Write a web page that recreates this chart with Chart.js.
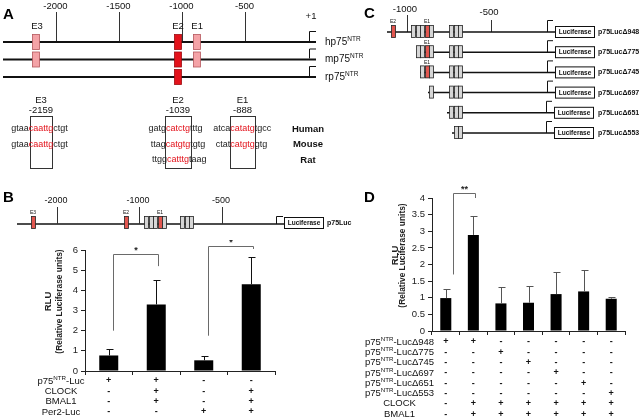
<!DOCTYPE html>
<html>
<head>
<meta charset="utf-8">
<script src="https://cdn.jsdelivr.net/npm/chart.js@4.4.0/dist/chart.umd.min.js"></script>
<style>
  html, body { margin: 0; padding: 0; background: #fff; }
  #page { position: relative; width: 640px; height: 419px; overflow: hidden; }
  canvas { position: absolute; }
  #diagrams { left: 0; top: 0; }
  #chartB { left: 0; top: 240px; }
  #chartD { left: 330px; top: 160px; }
</style>
</head>
<body>
<div id="page">
  <canvas id="diagrams" width="640" height="419"></canvas>
  <canvas id="chartB" width="330" height="179"></canvas>
  <canvas id="chartD" width="310" height="259"></canvas>
</div>
<script>
const FONT = "'Liberation Sans', Arial, Helvetica, sans-serif";

// ---- Panel A: promoter map and E-box sequences ----
const promoterTicks = [-2000, -1500, -1000, -500];
const eboxNames = ['E3', 'E2', 'E1'];
const eboxPositions = [-2159, -1039, -888];
const speciesRows = ['hp75', 'mp75', 'rp75'];
const eboxPresent = [[1, 1, 1], [1, 1, 1], [0, 1, 0]];
const seqSpecies = ['Human', 'Mouse', 'Rat'];
const seqE3 = [['gtaa', 'caattg', 'ctgt'], ['gtaa', 'caattg', 'ctgt'], null];
const seqE2 = [['gatg', 'catctg', 'tttg'], ['ttag', 'catgtg', 'tgtg'], ['ttgg', 'catttg', 'taag']];
const seqE1 = [['atca', 'catatg', 'tgcc'], ['ctat', 'catgtg', 'gtg'], null];

// ---- Panel C: deletion constructs ----
const deletionNames = ['p75LucΔ948', 'p75LucΔ775', 'p75LucΔ745', 'p75LucΔ697', 'p75LucΔ651', 'p75LucΔ553'];

// ---- Panel B: full-length promoter assay ----
const bLabels = ['p75', 'p75+CLOCK/BMAL1', 'Per2', 'Per2+CLOCK/BMAL1'];
const bValues = [0.77, 3.3, 0.53, 4.3];
const bErrors = [0.33, 1.2, 0.19, 1.35];
const bRowNames = ['p75NTR-Luc', 'CLOCK', 'BMAL1', 'Per2-Luc'];
const bRows = [
  ['+', '+', '-', '-'],
  ['-', '+', '-', '+'],
  ['-', '+', '-', '+'],
  ['-', '-', '+', '+']
];
const bSig = [
  { from: 0, to: 1, low: 2.0, high: 5.8, end: 5.2, mark: '*' },
  { from: 2, to: 3, low: 1.75, high: 6.2, end: 6.05, mark: '*' }
];

// ---- Panel D: deletion assay ----
const dLabels = ['Δ948', 'Δ948+CB', 'Δ775+CB', 'Δ745+CB', 'Δ697+CB', 'Δ651+CB', 'Δ553+CB'];
const dValues = [0.99, 2.89, 0.83, 0.85, 1.11, 1.19, 0.97];
const dErrors = [0.28, 0.57, 0.48, 0.51, 0.67, 0.64, 0.04];
const dRowNames = ['p75NTR-LucΔ948', 'p75NTR-LucΔ775', 'p75NTR-LucΔ745', 'p75NTR-LucΔ697',
  'p75NTR-LucΔ651', 'p75NTR-LucΔ553', 'CLOCK', 'BMAL1'];
const dRows = [
  ['+', '+', '-', '-', '-', '-', '-'],
  ['-', '-', '+', '-', '-', '-', '-'],
  ['-', '-', '-', '+', '-', '-', '-'],
  ['-', '-', '-', '-', '+', '-', '-'],
  ['-', '-', '-', '-', '-', '+', '-'],
  ['-', '-', '-', '-', '-', '-', '+'],
  ['-', '+', '+', '+', '+', '+', '+'],
  ['-', '+', '+', '+', '+', '+', '+']
];
const dSig = [{ from: 0, to: 1, low: 1.7, high: 4.15, end: 4.0, mark: '**' }];

// text with a raised "NTR"
function drawRich(ctx, str, x, y, size, align, weight) {
  const w = weight || 'normal';
  const main = `${w} ${size}px ${FONT}`;
  const sup = `${w} ${(size * 0.65).toFixed(1)}px ${FONT}`;
  const i = str.indexOf('NTR');
  ctx.textBaseline = 'middle';
  if (i < 0) {
    ctx.font = main; ctx.textAlign = align; ctx.fillText(str, x, y);
    return;
  }
  const a = str.slice(0, i), b = str.slice(i + 3);
  ctx.font = main;
  const wa = ctx.measureText(a).width, wb = ctx.measureText(b).width;
  ctx.font = sup;
  const ws = ctx.measureText('NTR').width;
  let x0 = align === 'center' ? x - (wa + ws + wb) / 2 : x;
  ctx.textAlign = 'left';
  ctx.font = main; ctx.fillText(a, x0, y);
  ctx.font = sup; ctx.fillText('NTR', x0 + wa, y - size * 0.3);
  ctx.font = main; ctx.fillText(b, x0 + wa + ws, y);
}

function drawDiagrams() {
  const c = document.getElementById('diagrams').getContext('2d');
  c.fillStyle = '#fff';
  c.fillRect(0, 0, 640, 419);

  const txt = (s, x, y, size, align, weight, color) => {
    c.font = `${weight || 'normal'} ${size}px ${FONT}`;
    c.textAlign = align || 'center';
    c.textBaseline = 'middle';
    c.fillStyle = color || '#111';
    c.fillText(s, x, y);
  };
  const line = (x1, y1, x2, y2, w, col) => {
    c.strokeStyle = col || '#111';
    c.lineWidth = w || 1;
    c.beginPath(); c.moveTo(x1, y1); c.lineTo(x2, y2); c.stroke();
  };
  const rect = (x, y, w, h, fill, stroke, lw) => {
    if (fill) { c.fillStyle = fill; c.fillRect(x, y, w, h); }
    if (stroke) { c.strokeStyle = stroke; c.lineWidth = lw || 1; c.strokeRect(x, y, w, h); }
  };
  // transcription start arrow: up h px, then right to xEnd
  const bent = (x, y, h, xEnd) => {
    c.strokeStyle = '#111'; c.lineWidth = 1;
    c.beginPath(); c.moveTo(x + 0.5, y); c.lineTo(x + 0.5, y - h + 0.5); c.lineTo(xEnd, y - h + 0.5); c.stroke();
  };

  // panel letters
  ['A', 'B', 'C', 'D'].forEach((L, i) => {
    const pos = [[3, 15], [3, 198], [364, 14], [364, 198]][i];
    txt(L, pos[0], pos[1], 15, 'left', 'bold', '#000');
  });

  // ---------- Panel A ----------
  const ax = bp => 308 + bp * 0.126;
  promoterTicks.forEach(bp => {
    const x = Math.round(ax(bp)) + 0.5;
    txt(String(bp), x - 1, 6, 9.5);
    line(x, 12, x, 42, 1, '#333');
  });
  txt('+1', 311, 16, 9.5);
  eboxNames.forEach((n, i) => txt(n, ax(eboxPositions[i]) + 1, 26, 9.5));

  speciesRows.forEach((sp, r) => {
    const y = 42 + r * 17.5;
    line(3, y, 316, y, 2, '#111');
    bent(309, y - 1, 10, 316);
    eboxPresent[r].forEach((on, i) => {
      if (!on) return;
      const x = Math.round(ax(eboxPositions[i]) - 3.5) + 0.5;
      const red = eboxNames[i] === 'E2';
      rect(x, y - 7.5, 7, 15, red ? '#e3121b' : '#f4a3a7', red ? '#9c0a10' : '#b5585d', 0.8);
    });
    c.fillStyle = '#111';
    drawRich(c, sp + 'NTR', 325, y, 10, 'left');
  });

  // sequence alignment
  const seqBoxes = [[30, 22], [165, 26], [230, 25]];
  const seqHead = [['E3', '-2159'], ['E2', '-1039'], ['E1', '-888']];
  const seqSets = [seqE3, seqE2, seqE1];
  seqBoxes.forEach(([bx, bw], k) => {
    const cx = bx + bw / 2;
    txt(seqHead[k][0], cx, 100, 9.5);
    txt(seqHead[k][1], cx, 110, 9.5);
    rect(bx + 0.5, 116.5, bw, 52, null, '#333', 1);
    seqSets[k].forEach((s, r) => {
      if (!s) return;
      const y = 129 + r * 15.5;
      c.font = `9px ${FONT}`;
      const wc = c.measureText(s[1]).width;
      txt(s[1], cx, y, 9, 'center', 'normal', '#e3121b');
      txt(s[0], cx - wc / 2, y, 9, 'right', 'normal', '#222');
      txt(s[2], cx + wc / 2, y, 9, 'left', 'normal', '#222');
    });
  });
  seqSpecies.forEach((s, r) => txt(s, 308, 129 + r * 15.5, 9.5, 'center', 'bold'));

  // ---------- construct drawing (panels B and C) ----------
  const GRAY = '#d6d6d6', SALMON = '#e2564f';
  const gbox = (x, y, w, fill) => rect(Math.round(x) + 0.5, y - 6.5, w, 12, fill, '#222', 0.8);
  const clusterA = [0, 4.7, 9, 13.8, 18.2];   // 4th is the E1 box
  const clusterB = [0, 4.8, 9];
  const luc = (x, y) => {
    rect(x + 0.5, y - 5.5, 39, 11, '#fff', '#111', 1);
    txt('Luciferase', x + 20, y + 0.5, 6.5, 'center', 'bold');
  };

  // Panel B schematic
  const by = 224;
  line(17, by, 284, by, 1.5);
  [['-2000', 57], ['-1000', 139], ['-500', 222]].forEach(([l, x]) => {
    txt(l, x - 1, 201, 9);
    line(x + 0.5, 207, x + 0.5, by, 1, '#333');
  });
  gbox(31, by - 1, 4, SALMON); txt('E3', 33, 213, 5);
  gbox(124, by - 1, 4, SALMON); txt('E2', 126, 213, 5);
  clusterA.forEach((o, i) => gbox(144 + o, by - 1, 4, i === 3 ? SALMON : GRAY));
  txt('E1', 160, 213, 5);
  clusterB.forEach(o => gbox(180 + o, by - 1, 4, GRAY));
  bent(276, by, 8, 283);
  luc(284, by - 1);
  txt('p75Luc', 327, by - 1, 7, 'left', 'bold');

  // Panel C schematic
  txt('-1000', 405, 9, 9.5);
  line(407.5, 15, 407.5, 32, 1, '#333');
  txt('-500', 489, 12, 9.5);
  line(491.5, 20, 491.5, 32, 1, '#333');
  const cRows = [
    { start: 387, a: [0, 1, 2, 3, 4], b: [0, 1, 2] },
    { start: 417, a: [1, 2, 3, 4], b: [0, 1, 2] },
    { start: 420, a: [2, 3, 4], b: [0, 1, 2] },
    { start: 428, a: [4], b: [0, 1, 2] },
    { start: 447, a: [], b: [0, 1, 2] },
    { start: 452, a: [], b: [1, 2] }
  ];
  cRows.forEach((row, r) => {
    const y = 32 + r * 20.2;
    const lx = r < 4 ? 555 : 554;
    line(row.start, y, lx, y, 1.5);
    if (r === 0) { gbox(391, y, 4, SALMON); txt('E2', 393, y - 10, 5); }
    row.a.forEach(i => gbox(411 + clusterA[i], y, 4, i === 3 ? SALMON : GRAY));
    if (row.a.includes(3)) txt('E1', 427, y - 10, 5);
    row.b.forEach(i => gbox(449 + clusterB[i], y, 4, GRAY));
    bent(r < 4 ? 547 : 546, y, 12, lx - 2);
    luc(lx, y);
    txt(deletionNames[r], 598, y, 7, 'left', 'bold');
  });
}

// error bars, significance brackets, y title and the +/- table
function makeExtras(o) {
  return {
    id: 'extras',
    afterDatasetsDraw(chart) {
      const { ctx, chartArea: area, scales: { x, y } } = chart;
      const bars = chart.getDatasetMeta(0).data;
      ctx.save();
      ctx.lineWidth = 1;
      ctx.strokeStyle = o.errColor;
      bars.forEach((bar, i) => {
        const cx = Math.round(bar.x) + 0.5;
        const top = Math.round(y.getPixelForValue(o.values[i] + o.errors[i])) + 0.5;
        ctx.beginPath();
        ctx.moveTo(cx, bar.y); ctx.lineTo(cx, top);
        ctx.moveTo(cx - 3, top); ctx.lineTo(cx + 4, top);
        ctx.stroke();
      });

      ctx.strokeStyle = '#6a6a6a';
      ctx.fillStyle = '#222';
      o.sig.forEach(s => {
        const x1 = Math.round(x.getPixelForValue(s.from) + o.shift[0]) + 0.5;
        const x2 = Math.round(x.getPixelForValue(s.to) + o.shift[1]) + 0.5;
        const yt = Math.round(y.getPixelForValue(s.high)) + 0.5;
        ctx.beginPath();
        ctx.moveTo(x1, y.getPixelForValue(s.low));
        ctx.lineTo(x1, yt); ctx.lineTo(x2, yt);
        ctx.lineTo(x2, y.getPixelForValue(s.end));
        ctx.stroke();
        ctx.font = `bold 9px ${FONT}`;
        ctx.textAlign = 'center'; ctx.textBaseline = 'middle';
        ctx.fillText(s.mark, (x1 + x2) / 2, yt - 4);
      });

      const cy = (area.top + area.bottom) / 2 - 9;
      [['RLU', o.titleX[0], 'bold 9.5px'], ['(Relative Luciferase units)', o.titleX[1], 'bold 8.4px']]
        .forEach(([t, dx, f]) => {
          ctx.save();
          ctx.translate(area.left + dx, cy);
          ctx.rotate(-Math.PI / 2);
          ctx.font = `${f} ${FONT}`;
          ctx.textAlign = 'center'; ctx.textBaseline = 'middle';
          ctx.fillText(t, 0, 0);
          ctx.restore();
        });

      o.rowNames.forEach((name, r) => {
        const ty = area.bottom + o.rowTop + r * 10.3;
        ctx.fillStyle = '#111';
        drawRich(ctx, name, area.left + o.labelX, ty, 9.5, 'center');
        ctx.font = `bold 9px ${FONT}`;
        ctx.textAlign = 'center';
        o.rows[r].forEach((sym, i) => ctx.fillText(sym, x.getPixelForValue(i), ty));
      });
      ctx.restore();
    }
  };
}

function barChart(id, labels, values, max, step, padding, xHeight, yWidth, extras) {
  return new Chart(document.getElementById(id), {
    type: 'bar',
    data: {
      labels: labels,
      datasets: [{
        data: values,
        backgroundColor: '#000',
        borderWidth: 0,
        barPercentage: 0.4,
        categoryPercentage: 1
      }]
    },
    options: {
      responsive: false,
      animation: false,
      layout: { padding: padding },
      plugins: { legend: { display: false }, tooltip: { enabled: false } },
      scales: {
        x: {
          grid: { drawOnChartArea: false, offset: true, tickLength: 4, color: '#222' },
          border: { color: '#222', width: 1 },
          ticks: { display: false },
          afterFit(s) { s.height = xHeight; }
        },
        y: {
          min: 0,
          max: max,
          ticks: {
            stepSize: step,
            color: '#222',
            font: { family: FONT, size: 9.5 },
            padding: 3,
            callback: v => String(v)
          },
          grid: { drawOnChartArea: false, tickLength: 4, color: '#222' },
          border: { color: '#222', width: 1 },
          afterFit(s) { s.width = yWidth; }
        }
      }
    },
    plugins: [extras]
  });
}

drawDiagrams();

barChart('chartB', bLabels, bValues, 6, 1, { left: 0, right: 55, top: 10, bottom: 0 }, 48, 85,
  makeExtras({
    values: bValues, errors: bErrors, errColor: '#111', sig: bSig, shift: [4, 2],
    titleX: [-37, -25], rowNames: bRowNames, rows: bRows, rowTop: 10, labelX: -24
  }));

barChart('chartD', dLabels, dValues, 4, 0.5, { left: 0, right: 15, top: 38, bottom: 0 }, 88, 102,
  makeExtras({
    values: dValues, errors: dErrors, errColor: '#555', sig: dSig, shift: [7, 2],
    titleX: [-37, -29], rowNames: dRowNames, rows: dRows, rowTop: 11, labelX: -32.5
  }));
</script>
</body>
</html>
